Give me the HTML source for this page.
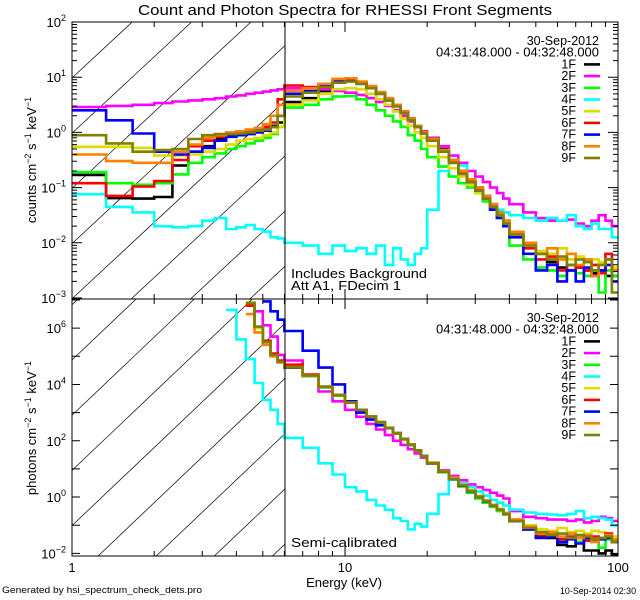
<!DOCTYPE html>
<html><head><meta charset="utf-8"><style>
html,body{margin:0;padding:0;background:#fff;width:640px;height:600px;overflow:hidden;}
svg{display:block;font-family:"Liberation Sans",sans-serif;}
</style></head><body>
<svg id="chart" xmlns="http://www.w3.org/2000/svg" width="640" height="600" viewBox="0 0 640 600">
<rect x="0" y="0" width="640" height="600" fill="#fff"/>
<defs>
<clipPath id="clipTop"><rect x="72" y="22" width="546" height="277"/></clipPath>
<clipPath id="clipBot"><rect x="72" y="299" width="546" height="257"/></clipPath>
</defs>
<text x="345" y="15" font-size="15" text-anchor="middle" textLength="414" lengthAdjust="spacingAndGlyphs">Count and Photon Spectra for RHESSI Front Segments</text>
<g id="hatch" stroke="#000" stroke-width="0.7"></g>
<g id="series"></g>
<g id="axes" stroke="#000" stroke-width="1" fill="none"></g>
<g id="labels" font-size="13"></g>
<text transform="translate(36,160) rotate(-90)" font-size="13" text-anchor="middle">counts cm<tspan font-size="9" dy="-5">−2</tspan><tspan dy="5"> s</tspan><tspan font-size="9" dy="-5">−1</tspan><tspan dy="5"> keV</tspan><tspan font-size="9" dy="-5">−1</tspan></text>
<text transform="translate(36,428) rotate(-90)" font-size="13" text-anchor="middle">photons cm<tspan font-size="9" dy="-5">−2</tspan><tspan dy="5"> s</tspan><tspan font-size="9" dy="-5">−1</tspan><tspan dy="5"> keV</tspan><tspan font-size="9" dy="-5">−1</tspan></text>
<text x="291" y="278" font-size="13" textLength="136" lengthAdjust="spacingAndGlyphs">Includes Background</text>
<text x="291" y="290" font-size="13" textLength="110" lengthAdjust="spacingAndGlyphs">Att A1, FDecim 1</text>
<text x="291" y="547" font-size="13" textLength="106" lengthAdjust="spacingAndGlyphs">Semi-calibrated</text>
<text x="344" y="587" font-size="13" text-anchor="middle">Energy (keV)</text>
<text x="2" y="593" font-size="9.5" textLength="200" lengthAdjust="spacingAndGlyphs">Generated by hsi_spectrum_check_dets.pro</text>
<text x="636" y="594" font-size="9" text-anchor="end" textLength="76" lengthAdjust="spacingAndGlyphs">10-Sep-2014 02:30</text>
</svg>
<script>
const edges = [1,1.333,1.667,2,2.333,2.667,3,3.333,3.667,4,4.333,4.667,5,5.333,5.667,6,7,8,9,10,11,12,13,14,15,16,17,18,19,20,22,24,26,28,30,32,34,36,38,40,45,50,55,60,65,70,75,80,85,90,95,100];
const seriesNames = ["1F","2F","3F","4F","5F","6F","7F","8F","9F"];
const seriesColors = ["#000000","#ff00ff","#00ff00","#00ffff","#dcdc00","#ff0000","#0000ff","#ff8000","#808000"];
// log10 counts cm^-2 s^-1 keV^-1
const c1F = [-0.77,-1.19,-1.2,-1.17,-0.6,-0.35,-0.25,-0.12,-0.05,0,0,0.03,0.05,0.12,0.18, 0.55,0.62,0.75,0.9,0.93,0.9,0.82,0.72,0.6,0.5,0.38,0.25,0.12,0.02, -0.1,-0.3,-0.5,-0.7,-0.85,-1.0,-1.15,-1.3,-1.45,-1.6, -1.8,-2.0,-2.2,-2.35,-2.45,-2.5,-2.45,-2.5,-2.55,-2.5,-2.6,-2.6];
const c2F = [0.46,0.48,0.5,0.53,0.56,0.58,0.6,0.62,0.65,0.67,0.7,0.72,0.74,0.76,0.78, 0.8,0.8,0.78,0.75,0.72,0.68,0.62,0.55,0.48,0.4,0.3,0.2,0.1,0.02, -0.1,-0.25,-0.42,-0.55,-0.7,-0.8,-0.9,-1.0,-1.1,-1.2, -1.3,-1.45,-1.55,-1.6,-1.6,-1.58,-1.65,-1.7,-1.6,-1.5,-1.6,-1.7];
const c3F = [-0.72,-0.92,-0.95,-0.92,-0.76,-0.55,-0.45,-0.38,-0.3,-0.25,-0.2,-0.15,-0.1,-0.03,0.1, 0.45,0.5,0.6,0.65,0.66,0.6,0.5,0.4,0.3,0.2,0.1,-0.05,-0.15,-0.3, -0.45,-0.62,-0.8,-0.92,-1.0,-1.1,-1.25,-1.4,-1.55,-1.7, -2.05,-2.3,-2.45,-2.5,-2.6,-2.5,-2.55,-2.6,-2.5,-2.9,-2.5,-2.6];
const c4F = [-1.12,-1.35,-1.45,-1.7,-1.72,-1.7,-1.6,-1.55,-1.75,-1.72,-1.68,-1.75,-1.8,-1.9,-1.92, -2.0,-2.05,-2.2,-2.05,-2.15,-2.1,-2.2,-2.05,-2.4,-2.1,-2.3,-2.4,-2.2,-2.1, -1.4,-0.7,-0.5,-0.6,-0.85,-1.05,-1.2,-1.3,-1.4,-1.45, -1.5,-1.55,-1.6,-1.55,-1.6,-1.5,-1.7,-1.75,-1.65,-1.75,-1.75,-1.9];
const c5F = [-0.26,-0.26,-0.28,-0.42,-0.42,-0.4,-0.35,-0.3,-0.22,-0.15,-0.12,-0.1,-0.05,0.0,0.1, 0.5,0.58,0.7,0.78,0.8,0.78,0.7,0.6,0.5,0.38,0.25,0.12,0.0,-0.1, -0.25,-0.45,-0.65,-0.8,-0.95,-1.1,-1.2,-1.35,-1.5,-1.6, -1.8,-2.0,-2.15,-2.2,-2.1,-2.3,-2.25,-2.35,-2.3,-2.35,-2.3,-2.45];
const c6F = [-0.92,-1.15,-0.98,-0.88,-0.5,-0.25,-0.15,-0.08,-0.02,0.0,0.02,0.05,0.1,0.18,0.6, 0.85,0.82,0.85,0.93,0.95,0.9,0.82,0.72,0.6,0.5,0.38,0.25,0.12,0.0, -0.12,-0.32,-0.52,-0.72,-0.88,-1.05,-1.2,-1.35,-1.5,-1.65, -1.85,-2.1,-2.3,-2.25,-2.5,-2.4,-2.45,-2.5,-2.4,-2.55,-2.2,-2.5];
const c7F = [0.4,0.22,-0.02,-0.35,-0.4,-0.35,-0.28,-0.15,-0.08,-0.05,-0.03,0.0,0.03,0.1,0.3, 0.7,0.75,0.85,0.92,0.93,0.88,0.8,0.7,0.58,0.48,0.36,0.23,0.1,-0.02, -0.15,-0.35,-0.55,-0.75,-0.9,-1.05,-1.2,-1.4,-1.55,-1.7, -1.9,-2.2,-2.5,-2.4,-2.7,-2.5,-2.7,-2.45,-2.6,-2.5,-2.4,-2.7];
const c8F = [-0.4,-0.52,-0.55,-0.55,-0.35,-0.22,-0.1,-0.05,0.0,0.02,0.05,0.08,0.15,0.3,0.5, 0.75,0.8,0.88,0.97,0.98,0.92,0.84,0.73,0.62,0.5,0.38,0.25,0.12,0.0, -0.12,-0.32,-0.5,-0.7,-0.85,-1.0,-1.15,-1.3,-1.45,-1.6, -1.8,-2.0,-2.2,-2.1,-2.3,-2.2,-2.4,-2.3,-2.6,-2.4,-2.3,-2.5];
const c9F = [-0.05,-0.2,-0.35,-0.32,-0.3,-0.12,-0.05,-0.03,-0.03,-0.02,0.0,0.03,0.05,0.1,0.3, 0.65,0.72,0.82,0.9,0.92,0.88,0.8,0.7,0.58,0.47,0.35,0.22,0.1,-0.02, -0.15,-0.35,-0.55,-0.75,-0.9,-1.05,-1.2,-1.35,-1.5,-1.65, -1.85,-2.05,-2.2,-2.3,-2.25,-2.4,-2.3,-2.35,-2.5,-2.4,-2.3,-2.9];
// log10 photons cm^-2 s^-1 keV^-1
const N = null;
const p1F = [N,N,N,N,N,N,N,N,N,N,6.8,6.0,5.5,5.05,4.8, 4.6,4.3,3.9,3.6,3.35,3.1,2.85,2.65,2.45,2.25,2.05,1.85,1.65,1.45, 1.2,0.9,0.65,0.4,0.2,0.0,-0.15,-0.3,-0.45,-0.6, -0.85,-1.15,-1.4,-1.45,-1.7,-1.75,-1.6,-1.9,-1.9,-2.0,-1.9,-2.05];
const p2F = [N,N,N,N,N,N,N,N,N,N,N,6.6,6.1,5.7,5.05, 4.85,4.3,3.75,3.4,3.1,2.85,2.6,2.4,2.2,2.0,1.85,1.7,1.55,1.4, 1.2,0.95,0.75,0.6,0.45,0.35,0.25,0.15,0.05,-0.05, -0.5,-0.7,-0.75,-0.8,-0.8,-0.85,-0.8,-0.9,-0.85,-0.7,-0.75,-0.85];
const p3F = [N,N,N,N,N,N,N,N,N,N,6.8,6.0,5.5,5.05,4.8, 4.62,4.3,3.9,3.6,3.35,3.1,2.86,2.66,2.46,2.26,2.05,1.85,1.65,1.45, 1.2,0.88,0.62,0.38,0.15,-0.05,-0.2,-0.35,-0.5,-0.62, -0.85,-1.1,-1.3,-1.35,-1.5,-1.45,-1.6,-1.5,-1.55,-1.8,-1.5,-1.6];
const p4F = [N,N,N,N,N,N,N,N,6.65,5.6,4.9,4.05,3.45,3.1,2.6, 2.1,1.75,1.2,0.8,0.35,0.2,-0.1,-0.3,-0.45,-0.75,-0.85,-1.15,-0.95,-1.05, -0.6,0.1,0.65,0.5,0.35,0.2,0.05,-0.1,-0.2,-0.3, -0.45,-0.55,-0.6,-0.62,-0.65,-0.6,-0.5,-0.75,-0.7,-0.75,-0.8,-1.0];
const p5F = [N,N,N,N,N,N,N,N,N,N,6.8,6.0,5.5,5.05,4.8, 4.62,4.32,3.92,3.62,3.36,3.1,2.86,2.66,2.46,2.26,2.06,1.86,1.66,1.46, 1.22,0.92,0.68,0.44,0.24,0.04,-0.12,-0.28,-0.42,-0.56, -0.8,-1.0,-1.15,-1.2,-1.1,-1.25,-1.2,-1.3,-1.2,-1.25,-1.3,-1.4];
const p6F = [N,N,N,N,N,N,N,N,N,N,6.8,6.05,5.55,5.1,4.85, 4.7,4.35,3.92,3.62,3.36,3.1,2.86,2.66,2.46,2.26,2.06,1.86,1.66,1.46, 1.2,0.9,0.65,0.42,0.22,0.02,-0.14,-0.3,-0.45,-0.6, -0.85,-1.1,-1.35,-1.3,-1.5,-1.4,-1.45,-1.55,-1.4,-1.45,-1.3,-1.5];
const p7F = [N,N,N,N,N,N,N,N,N,N,N,N,6.95,6.6,6.3, 5.9,5.2,4.6,4.0,3.4,3.0,2.75,2.55,2.45,2.27,2.06,1.86,1.66,1.46, 1.2,0.9,0.64,0.4,0.2,0.0,-0.15,-0.3,-0.45,-0.6, -0.85,-1.15,-1.45,-1.4,-1.6,-1.5,-1.65,-1.45,-1.55,-1.5,-1.45,-1.6];
const p8F = [N,N,N,N,N,N,N,N,N,N,6.5,5.85,5.4,5.0,4.78, 4.62,4.32,3.92,3.62,3.36,3.1,2.86,2.66,2.46,2.26,2.06,1.86,1.66,1.46, 1.22,0.92,0.66,0.42,0.22,0.02,-0.13,-0.28,-0.43,-0.58, -0.8,-1.05,-1.3,-1.25,-1.4,-1.3,-1.45,-1.35,-1.6,-1.45,-1.35,-1.5];
const p9F = [N,N,N,N,N,N,N,N,N,N,6.9,6.05,5.5,5.05,4.8, 4.62,4.32,3.92,3.62,3.36,3.1,2.86,2.66,2.46,2.26,2.06,1.86,1.66,1.46, 1.2,0.9,0.65,0.41,0.21,0.01,-0.14,-0.3,-0.45,-0.6, -0.85,-1.1,-1.25,-1.35,-1.3,-1.45,-1.35,-1.4,-1.5,-1.45,-1.4,-1.6];
const countSeries = [c1F,c2F,c3F,c4F,c5F,c6F,c7F,c8F,c9F];
const photonSeries = [p1F,p2F,p3F,p4F,p5F,p6F,p7F,p8F,p9F];
const topTickExps = [2,1,0,-1,-2,-3];
const botTickExps = [6,4,2,0,-2];
const xTickLabels = ["1","10","100"];

const NS = "http://www.w3.org/2000/svg";
function xS(e){ return 72 + 273*Math.log10(e); }
function yTop(v){ return 22 + (2 - v)*55.2; }
function yBot(v){ return 300 + (7 - v)*28.15; }
function yBotC(v){ return Math.min(556, yBot(v)); }
function mk(tag, attrs, parent){ const el=document.createElementNS(NS,tag); for(const k in attrs) el.setAttribute(k,attrs[k]); parent.appendChild(el); return el; }

// hatching, clipped analytically to the region x 72..285
const hatch = document.getElementById('hatch');
function hatchLine(b, s, top, bot){
  // y = b - s*(x-72)
  let xa = 72, xb = 285;
  const xTop = 72 + (b - top)/s, xBot = 72 + (b - bot)/s;
  xa = Math.max(xa, xBot); xb = Math.min(xb, xTop);
  if (xb <= xa) return;
  const l = mk('line',{x1:xa.toFixed(1),y1:(b-s*(xa-72)).toFixed(1),x2:xb.toFixed(1),y2:(b-s*(xb-72)).toFixed(1)},hatch);
  
  
}
for(let k=-6;k<10;k++){
  hatchLine(78 + k*55.2, 0.93, 22, 299);
  hatchLine(360 + k*55.2, 0.95, 299, 556);
}

const sg = document.getElementById('series');
function stepPath(vals, yf){
  let d=""; let prevY=null;
  for(let i=0;i<vals.length;i++){
    const v=vals[i];
    if(v===null||v===undefined){ prevY=null; continue; }
    const x0=xS(edges[i]), x1=xS(edges[i+1]), y=yf(v);
    if(prevY===null) d+="M"+x0.toFixed(1)+","+y.toFixed(1);
    else d+="V"+y.toFixed(1);
    d+="H"+x1.toFixed(1);
    prevY=y;
  }
  return d;
}
function yTopC(v){ return Math.max(22, Math.min(299, yTop(v))); }
function yBotCC(v){ return Math.max(299, yBotC(v)); }
const gTop = mk('g',{'clip-path':'url(#clipTop)'},sg);
const gBot = mk('g',{'clip-path':'url(#clipBot)'},sg);
for(let s=0;s<seriesNames.length;s++){
  const p1 = mk('path',{d:stepPath(countSeries[s],yTopC),fill:'none',stroke:seriesColors[s],'stroke-width':2.6},gTop);
  
  
  const p2 = mk('path',{d:stepPath(photonSeries[s],yBotCC),fill:'none',stroke:seriesColors[s],'stroke-width':2.6},gBot);
  
  
}

const ax = document.getElementById('axes');
const f1 = mk('rect',{x:72,y:22,width:546,height:277},ax);


const f2 = mk('rect',{x:72,y:299,width:546,height:257},ax);


const vl = mk('line',{x1:285,y1:22,x2:285,y2:556},ax);


let td="";
const frames=[[22,299],[299,556]];
for(let dec=0;dec<2;dec++){
  for(let m=1;m<=10;m++){
    const e=Math.pow(10,dec)*m; const x=xS(e); const len=(m===1||m===10)?10:5;
    for(const fr of frames){ td+="M"+x+","+fr[0]+"v"+len+"M"+x+","+fr[1]+"v"+(-len); }
  }
}
for(let d=-3; d<2; d++){
  for(let m=1;m<10;m++){
    const y=yTop(d+Math.log10(m)); const len=m===1?10:5;
    td+="M72,"+y+"h"+len+"M618,"+y+"h"+(-len);
  }
}
td+="M72,"+yTop(2)+"h10M618,"+yTop(2)+"h-10";
for(let d=-2; d<=7; d++){
  const y=yBot(d); if(y<299||y>556) continue;
  td+="M72,"+y+"h8M618,"+y+"h-8";
}
const tk = mk('path',{d:td},ax);



const lb = document.getElementById('labels');
function powLabel(exp, y, name){
  const t = mk('text',{x:66,y:y+5,'text-anchor':'end'},lb);
  
  
  t.appendChild(document.createTextNode('10'));
  const s = mk('tspan',{'font-size':9,dy:-6},t);
  s.textContent = (exp<0?'−':'')+Math.abs(exp);
}
topTickExps.forEach(e=>powLabel(e,yTop(e),'top-y-tick-label'));
botTickExps.forEach(e=>powLabel(e,yBot(e),'bottom-y-tick-label'));
xTickLabels.forEach((s,i)=>{
  const t = mk('text',{x:xS(Math.pow(10,i)),y:572,'text-anchor':'middle'},lb);
  
  
  t.textContent = s;
});
function legend(y0, prefix){
  const t1 = mk('text',{x:599,y:y0,'text-anchor':'end','font-size':12.5},lb);
  
  
  t1.textContent='30-Sep-2012';
  const t2 = mk('text',{x:599,y:y0+11.7,'text-anchor':'end','font-size':12.5,textLength:163,lengthAdjust:'spacingAndGlyphs'},lb);
  
  
  t2.textContent='04:31:48.000 - 04:32:48.000';
  seriesNames.forEach((n,i)=>{
    const y=y0+23.4+i*11.7;
    const t = mk('text',{x:576,y:y,'text-anchor':'end','font-size':12.5},lb);
    
    
    t.textContent=n;
    const l = mk('line',{x1:584,y1:y-4,x2:600,y2:y-4,stroke:seriesColors[i],'stroke-width':2.6},lb);
    
    
  });
}
legend(45,'top');
legend(322,'bottom');
</script>
</body></html>
